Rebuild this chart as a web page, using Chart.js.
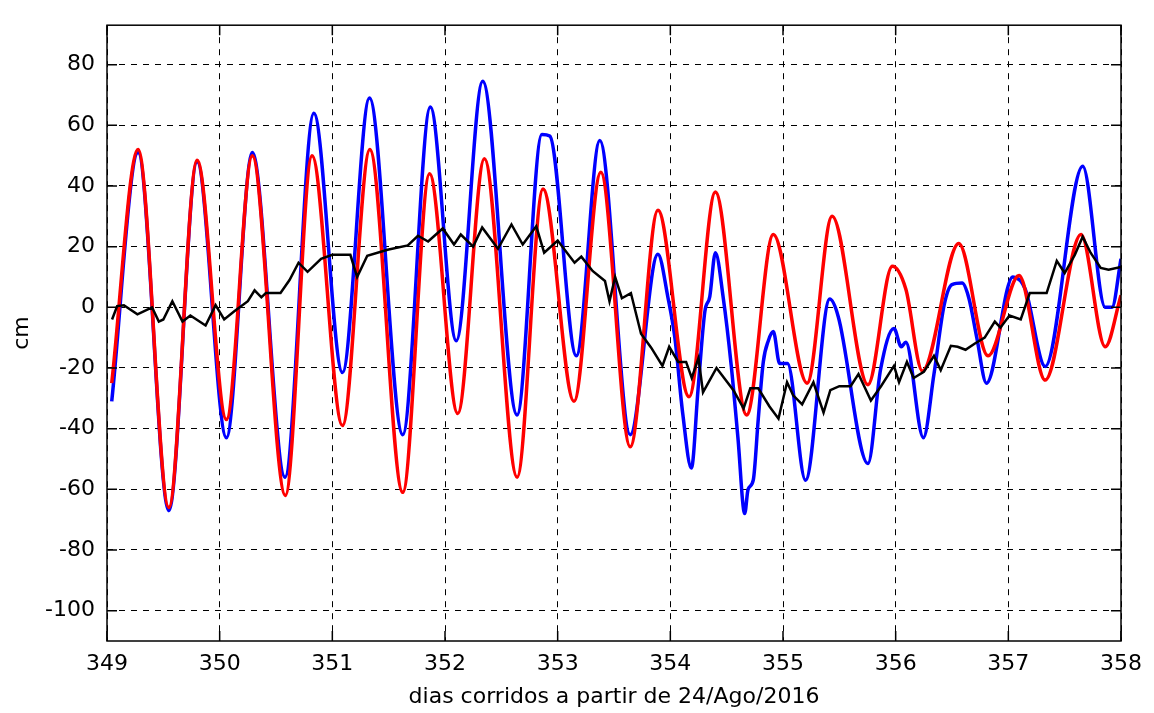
<!DOCTYPE html>
<html>
<head>
<meta charset="utf-8">
<script src="https://cdn.jsdelivr.net/npm/chart.js@4/dist/chart.umd.min.js"></script>
<style>
  html, body { margin: 0; padding: 0; background: #fff; }
  canvas { display: block; }
</style>
</head>
<body>
<canvas id="mareaChart" width="1154" height="713"></canvas>
<script>
// ===== datos =====
const xTicks = [349, 350, 351, 352, 353, 354, 355, 356, 357, 358];
const yTicks = [-100, -80, -60, -40, -20, 0, 20, 40, 60, 80];
const xTitulo = 'dias corridos a partir de 24/Ago/2016';
const yTitulo = 'cm';

// marea prevista (rojo)
const prevT = [349.042, 349.276, 349.549, 349.800, 350.060, 350.290, 350.583, 350.820, 351.090, 351.333,
  351.625, 351.863, 352.113, 352.350, 352.640, 352.870, 353.145, 353.383, 353.644, 353.890,
  354.166, 354.400, 354.677, 354.914, 355.214, 355.436, 355.754, 355.970, 356.090, 356.237,
  356.560, 356.820, 357.095, 357.327, 357.645, 357.860, 358.000];
const prevV = [-25, 52, -66, 48.5, -37, 50, -62, 50, -39, 52,
  -61, 44, -35, 49, -56, 39, -31, 44.5, -46, 32,
  -29.5, 38, -35.5, 24, -25, 30, -25.5, 13.5, 6, -21,
  21, -16, 10.5, -24, 24, -13, 4];

// nivel observado (azul)
const obsT = [349.042, 349.276, 349.549, 349.800, 350.060, 350.290, 350.580, 350.836, 351.090, 351.330,
  351.625, 351.870, 352.100, 352.335, 352.640, 352.860, 352.930, 353.166, 353.374, 353.644,
  353.890, 353.980, 354.040, 354.110, 354.187, 354.246, 354.306, 354.350, 354.400, 354.470,
  354.540, 354.600, 354.660, 354.690, 354.736, 354.780, 354.825, 354.870, 354.914, 354.970,
  355.040, 355.200, 355.415, 355.490, 355.754, 355.866, 355.985, 356.050, 356.090, 356.246,
  356.340, 356.430, 356.500, 356.590, 356.650, 356.720, 356.806, 357.040, 357.150, 357.327,
  357.660, 357.860, 357.920, 358.000];
const obsV = [-31, 51, -67, 48, -43, 51, -56, 64, -21.5, 69,
  -42, 66, -11, 74.5, -35.5, 57, 56.5, -16, 55, -42,
  17.5, 3, -10, -35, -53, -27, -1.5, 3.5, 18, 3,
  -19, -43, -68, -60, -57, -37, -18, -11, -8, -18.5,
  -18.5, -57, 2.7, -3, -51.5, -20.5, -7, -13, -11.5, -43,
  -22, 0.7, 7.5, 8, 3, -10, -25, 10, 6, -19.5,
  46.5, 0, 0, 16];

// residuo meteorologico (negro)
const resT = [349.045, 349.090, 349.150, 349.270, 349.400, 349.460, 349.500, 349.580, 349.670, 349.740,
  349.875, 349.964, 350.040, 350.130, 350.250, 350.310, 350.370, 350.410, 350.540, 350.620,
  350.700, 350.780, 350.900, 351.000, 351.160, 351.220, 351.310, 351.490, 351.670, 351.760,
  351.850, 351.980, 352.080, 352.140, 352.250, 352.330, 352.470, 352.590, 352.690, 352.810,
  352.880, 353.000, 353.150, 353.210, 353.310, 353.420, 353.460, 353.510, 353.570, 353.650,
  353.740, 353.830, 353.930, 353.990, 354.070, 354.140, 354.190, 354.250, 354.290, 354.350,
  354.410, 354.560, 354.650, 354.710, 354.780, 354.880, 354.960, 355.036, 355.090, 355.170,
  355.270, 355.360, 355.420, 355.500, 355.600, 355.670, 355.780, 355.870, 355.985, 356.030,
  356.100, 356.160, 356.250, 356.340, 356.400, 356.490, 356.550, 356.620, 356.700, 356.790,
  356.880, 356.930, 357.010, 357.110, 357.190, 357.280, 357.340, 357.430, 357.500, 357.590,
  357.660, 357.730, 357.820, 357.890, 358.000];
const resV = [-4, 0.4, 0.7, -2.3, 0, -4.7, -4, 2, -4.7, -2.7,
  -6, 0.7, -4, -1.3, 2, 5.6, 3.3, 4.7, 4.7, 9,
  14.7, 11.7, 16, 17.3, 17.3, 10, 17, 19, 20.4, 23.6,
  21.7, 26, 20.7, 24, 20, 26.3, 19.3, 27.3, 20.7, 26.7,
  18, 22, 14.7, 16.7, 12, 8.7, 2, 10, 3, 4.7,
  -8.7, -13.3, -19.3, -13, -18, -18, -23.3, -16.7, -28, -24,
  -20, -27.3, -33.3, -26.7, -26.7, -32.7, -36.7, -24.7, -29, -32,
  -24.7, -34.7, -27.3, -26, -26, -22, -30.7, -26, -19.3, -24.7,
  -18, -23.3, -21.3, -16, -20.7, -12.7, -13, -14, -12, -10,
  -4.7, -6.7, -2.7, -4, 4.7, 4.7, 4.7, 15.3, 11.3, 17.3,
  23.3, 18, 13, 12.4, 13.3];

const fuente = { family: 'DejaVu Sans', size: 22 };

function puntos(ts, vs) {
    return ts.map((t, i) => ({ x: t, y: vs[i] }));
}

// marco con marcas hacia adentro (estilo matlab)
const marco = {
    id: 'marco',
    afterDraw(chart) {
        const { ctx, chartArea: a, scales: { x, y } } = chart;
        ctx.save();
        ctx.strokeStyle = '#000';
        ctx.lineWidth = 1.5;
        ctx.strokeRect(a.left, a.top, a.right - a.left, a.bottom - a.top);
        ctx.beginPath();
        xTicks.forEach(v => {
            const px = x.getPixelForValue(v);
            ctx.moveTo(px, a.bottom); ctx.lineTo(px, a.bottom - 10);
            ctx.moveTo(px, a.top); ctx.lineTo(px, a.top + 10);
        });
        yTicks.forEach(v => {
            const py = y.getPixelForValue(v);
            ctx.moveTo(a.left, py); ctx.lineTo(a.left + 10, py);
            ctx.moveTo(a.right, py); ctx.lineTo(a.right - 10, py);
        });
        ctx.stroke();
        ctx.restore();
    }
};

const ctx = document.getElementById('mareaChart').getContext('2d');
const mareaChart = new Chart(ctx, {
    type: 'line',
    data: {
        datasets: [
            {
                label: 'residuo',
                data: puntos(resT, resV),
                borderColor: '#000000',
                borderWidth: 2.5,
                pointRadius: 0,
                tension: 0
            },
            {
                label: 'prevista',
                data: puntos(prevT, prevV),
                borderColor: '#ff0000',
                borderWidth: 3.5,
                pointRadius: 0,
                cubicInterpolationMode: 'monotone'
            },
            {
                label: 'observada',
                data: puntos(obsT, obsV),
                borderColor: '#0000ff',
                borderWidth: 3.5,
                pointRadius: 0,
                cubicInterpolationMode: 'monotone'
            }
        ]
    },
    options: {
        responsive: false,
        animation: false,
        layout: { padding: { top: 10, right: 33, left: 0, bottom: 0 } },
        plugins: {
            legend: { display: false },
            tooltip: { enabled: false }
        },
        scales: {
            x: {
                type: 'linear',
                min: 349,
                max: 358,
                afterBuildTicks: s => { s.ticks = xTicks.map(v => ({ value: v })); },
                afterFit: s => { s.height = 72; },
                grid: { color: '#000', lineWidth: 1, drawTicks: false },
                border: { display: false, dash: [6, 6] },
                ticks: { color: '#000', font: fuente, padding: 10, maxRotation: 0, autoSkip: false },
                title: { display: true, text: xTitulo, color: '#000', font: fuente, padding: { top: 0, bottom: 3 } }
            },
            y: {
                type: 'linear',
                min: -110,
                max: 93,
                afterBuildTicks: s => { s.ticks = yTicks.map(v => ({ value: v })); },
                afterFit: s => { s.width = 107; },
                grid: { color: '#000', lineWidth: 1, drawTicks: false },
                border: { display: false, dash: [6, 6] },
                ticks: { color: '#000', font: fuente, padding: 12 },
                title: { display: true, text: yTitulo, color: '#000', font: fuente, padding: { top: 9, bottom: 0 } }
            }
        }
    },
    plugins: [marco]
});
</script>
</body>
</html>
